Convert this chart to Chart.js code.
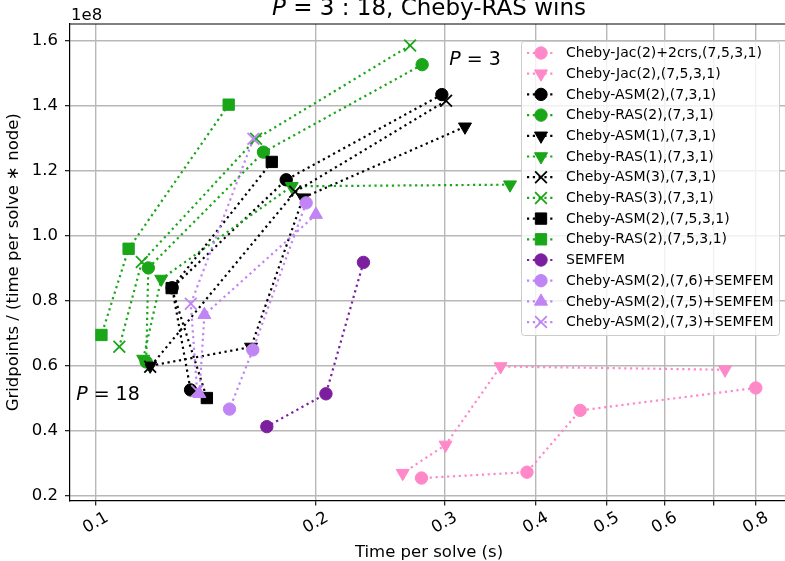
<!DOCTYPE html>
<html>
<head>
<meta charset="utf-8">
<title>P = 3:18, Cheby-RAS wins</title>
<script src="https://cdn.jsdelivr.net/npm/chart.js"></script>
<style>
    html, body { margin: 0; padding: 0; background: #fff; }
    #wrap { width: 785px; height: 561px; }
</style>
</head>
<body>
<div id="wrap"><canvas id="chart" width="785" height="561"></canvas></div>
<script>
// time per solve (s) and gridpoints / (time per solve * node), the latter in units of 1e8
// every series runs from P = 3 (top right) down to P = 18

const seriesNames = [
    'Cheby-Jac(2)+2crs,(7,5,3,1)',
    'Cheby-Jac(2),(7,5,3,1)',
    'Cheby-ASM(2),(7,3,1)',
    'Cheby-RAS(2),(7,3,1)',
    'Cheby-ASM(1),(7,3,1)',
    'Cheby-RAS(1),(7,3,1)',
    'Cheby-ASM(3),(7,3,1)',
    'Cheby-RAS(3),(7,3,1)',
    'Cheby-ASM(2),(7,5,3,1)',
    'Cheby-RAS(2),(7,5,3,1)',
    'SEMFEM',
    'Cheby-ASM(2),(7,6)+SEMFEM',
    'Cheby-ASM(2),(7,5)+SEMFEM',
    'Cheby-ASM(2),(7,3)+SEMFEM'
];

const jac2crsTime = [0.800, 0.460, 0.389, 0.279];
const jac2crsRate = [0.532, 0.463, 0.273, 0.255];

const jacTime = [0.726, 0.358, 0.301, 0.263];
const jacRate = [0.588, 0.598, 0.357, 0.270];

const asm2Time = [0.2975, 0.1822, 0.1272, 0.1348];
const asm2Rate = [1.434, 1.172, 0.840, 0.526];

const ras2Time = [0.2796, 0.1696, 0.1180, 0.1172];
const ras2Rate = [1.526, 1.257, 0.901, 0.612];

const asm1Time = [0.320, 0.1922, 0.1631, 0.1187];
const asm1Rate = [1.335, 1.117, 0.658, 0.600];

const ras1Time = [0.3688, 0.1854, 0.1229, 0.1161];
const ras1Rate = [1.157, 1.152, 0.867, 0.621];

const asm3Time = [0.3015, 0.1874, 0.1187];
const asm3Rate = [1.415, 1.135, 0.597];

const ras3Time = [0.2692, 0.1657, 0.1156, 0.1077];
const ras3Rate = [1.585, 1.298, 0.919, 0.659];

const asm2LongTime = [0.1741, 0.1270, 0.1419];
const asm2LongRate = [1.227, 0.839, 0.501];

const ras2LongTime = [0.1520, 0.1109, 0.1018];
const ras2LongRate = [1.403, 0.960, 0.695];

const semfemTime = [0.2324, 0.2065, 0.1714];
const semfemRate = [0.918, 0.514, 0.413];

const semfem76Time = [0.1940, 0.1640, 0.1524];
const semfem76Rate = [1.101, 0.649, 0.467];

const semfem75Time = [0.2001, 0.1408, 0.1386];
const semfem75Rate = [1.065, 0.757, 0.514];

const semfem73Time = [0.1643, 0.1349, 0.1376];
const semfem73Rate = [1.298, 0.791, 0.523];

const xTicks = [0.1, 0.2, 0.3, 0.4, 0.5, 0.6, 0.7, 0.8];
const xTickLabels = ['0.1', '0.2', '0.3', '0.4', '0.5', '0.6', '', '0.8'];
const yTicks = [0.2, 0.4, 0.6, 0.8, 1.0, 1.2, 1.4, 1.6];
const yTickLabels = ['0.2', '0.4', '0.6', '0.8', '1.0', '1.2', '1.4', '1.6'];

const seriesTimes = [jac2crsTime, jacTime, asm2Time, ras2Time, asm1Time, ras1Time, asm3Time,
    ras3Time, asm2LongTime, ras2LongTime, semfemTime, semfem76Time, semfem75Time, semfem73Time];
const seriesRates = [jac2crsRate, jacRate, asm2Rate, ras2Rate, asm1Rate, ras1Rate, asm3Rate,
    ras3Rate, asm2LongRate, ras2LongRate, semfemRate, semfem76Rate, semfem75Rate, semfem73Rate];

// ---- styles ----
const FONT = "'DejaVu Sans', sans-serif";
const PINK = '#ff88c8';
const BLACK = '#000000';
const GREEN = '#19a619';
const DARK_PURPLE = '#7c1f9e';
const LIGHT_PURPLE = '#c184f4';

const MARKERS = {
    o: { pointStyle: 'circle', radius: 6.2, rotation: 0, borderWidth: 1 },
    v: { pointStyle: 'triangle', radius: 7.5, rotation: 180, borderWidth: 1 },
    '^': { pointStyle: 'triangle', radius: 7.5, rotation: 0, borderWidth: 1 },
    x: { pointStyle: 'crossRot', radius: 8.3, rotation: 0, borderWidth: 1.8 },
    s: { pointStyle: 'rect', radius: 8, rotation: 0, borderWidth: 1 }
};

const seriesStyles = [
    [PINK, 'o'], [PINK, 'v'],
    [BLACK, 'o'], [GREEN, 'o'],
    [BLACK, 'v'], [GREEN, 'v'],
    [BLACK, 'x'], [GREEN, 'x'],
    [BLACK, 's'], [GREEN, 's'],
    [DARK_PURPLE, 'o'], [LIGHT_PURPLE, 'o'], [LIGHT_PURPLE, '^'], [LIGHT_PURPLE, 'x']
];

const datasets = seriesNames.map((name, i) => {
    const [color, m] = seriesStyles[i];
    const mk = MARKERS[m];
    return {
        label: name,
        data: seriesTimes[i].map((t, j) => ({ x: t, y: seriesRates[i][j] })),
        showLine: true,
        borderColor: color,
        backgroundColor: color,
        borderWidth: 2.2,
        borderDash: [2.2, 3.6],
        pointStyle: mk.pointStyle,
        pointRadius: mk.radius,
        pointRotation: mk.rotation,
        pointBorderWidth: mk.borderWidth,
        pointBackgroundColor: color,
        pointBorderColor: color,
        // matplotlib paints later series on top
        order: seriesNames.length - i
    };
});

function drawRich(ctx, parts, x, y, size, align) {
    const widths = parts.map(([t, it]) => {
        ctx.font = `${it ? 'italic ' : ''}${size}px ${FONT}`;
        return ctx.measureText(t).width;
    });
    const total = widths.reduce((s, w) => s + w, 0);
    let cx = align === 'center' ? x - total / 2 : x;
    ctx.textAlign = 'left';
    parts.forEach(([t, it], i) => {
        ctx.font = `${it ? 'italic ' : ''}${size}px ${FONT}`;
        ctx.fillText(t, cx, y);
        cx += widths[i];
    });
}

function drawMarker(ctx, ds, x, y) {
    ctx.setLineDash([]);
    ctx.fillStyle = ds.pointBackgroundColor;
    ctx.strokeStyle = ds.pointBorderColor;
    ctx.lineWidth = ds.pointBorderWidth;
    Chart.helpers.drawPoint(ctx, {
        pointStyle: ds.pointStyle,
        rotation: ds.pointRotation,
        radius: ds.pointRadius,
        borderWidth: ds.pointBorderWidth
    }, x, y);
}

const decorations = {
    id: 'decorations',
    afterDraw(chart) {
        const { ctx, chartArea: a, scales } = chart;
        ctx.save();

        // top spine
        ctx.strokeStyle = '#000';
        ctx.lineWidth = 1.2;
        ctx.beginPath();
        ctx.moveTo(a.left, a.top);
        ctx.lineTo(a.right, a.top);
        ctx.stroke();

        ctx.fillStyle = '#000';

        // x tick labels, rotated about their centre
        ctx.font = `16.5px ${FONT}`;
        ctx.textAlign = 'center';
        ctx.textBaseline = 'middle';
        scales.x.ticks.forEach((tk) => {
            const label = xTickLabels[xTicks.indexOf(tk.value)];
            if (!label) return;
            ctx.save();
            ctx.translate(scales.x.getPixelForValue(tk.value), a.bottom + 22.5);
            ctx.rotate(-Math.PI / 6);
            ctx.fillText(label, 0, 0);
            ctx.restore();
        });

        // axis titles
        ctx.fillText('Time per solve (s)', 429, 553);
        ctx.save();
        ctx.translate(14, (a.top + a.bottom) / 2);
        ctx.rotate(-Math.PI / 2);
        ctx.fillText('Gridpoints / (time per solve \u2217 node)', 0, 0);
        ctx.restore();

        // offset text
        ctx.textAlign = 'left';
        ctx.textBaseline = 'alphabetic';
        ctx.font = `16.5px ${FONT}`;
        ctx.fillText('1e8', 71, 20);

        // title
        drawRich(ctx, [['P', true], [' = 3 : 18, Cheby-RAS wins', false]], 429, 15, 23, 'center');

        // P annotations
        drawRich(ctx, [['P', true], [' = 3', false]], scales.x.getPixelForValue(0.3045), scales.y.getPixelForValue(1.526), 19, 'left');
        drawRich(ctx, [['P', true], [' = 18', false]], scales.x.getPixelForValue(0.094), scales.y.getPixelForValue(0.495), 19, 'left');

        // legend
        const box = { x: 521, y: 41, w: 258, h: 294 };
        ctx.fillStyle = 'rgba(255,255,255,0.8)';
        ctx.strokeStyle = '#cccccc';
        ctx.lineWidth = 1;
        ctx.beginPath();
        ctx.roundRect(box.x + 0.5, box.y + 0.5, box.w, box.h, 3);
        ctx.fill();
        ctx.stroke();

        chart.data.datasets.forEach((ds, i) => {
            const cy = box.y + 12 + i * 20.7;
            ctx.setLineDash(ds.borderDash);
            ctx.strokeStyle = ds.borderColor;
            ctx.lineWidth = ds.borderWidth;
            ctx.beginPath();
            ctx.moveTo(box.x + 6, cy);
            ctx.lineTo(box.x + 34, cy);
            ctx.stroke();
            drawMarker(ctx, ds, box.x + 20, cy);
            ctx.fillStyle = '#000';
            ctx.font = `14px ${FONT}`;
            ctx.textAlign = 'left';
            ctx.textBaseline = 'middle';
            ctx.fillText(ds.label, box.x + 45, cy + 0.5);
        });

        ctx.restore();
    }
};

new Chart(document.getElementById('chart'), {
    type: 'scatter',
    data: { datasets },
    options: {
        responsive: false,
        animation: false,
        events: [],
        layout: { autoPadding: false, padding: { top: 24, left: 0, right: 0, bottom: 0 } },
        plugins: {
            legend: { display: false },
            title: { display: false },
            tooltip: { enabled: false }
        },
        scales: {
            x: {
                type: 'logarithmic',
                min: 0.0922,
                max: 0.877,
                afterBuildTicks: (scale) => { scale.ticks = xTicks.map(v => ({ value: v })); },
                afterFit: (scale) => { scale.height = 60.5; scale.paddingLeft = 0; scale.paddingRight = 0; },
                ticks: { display: false, autoSkip: false },
                grid: { color: '#b8b8b8', lineWidth: 1.4, tickColor: '#000', tickLength: 5, tickWidth: 1.1 },
                border: { color: '#000', width: 1.2 }
            },
            y: {
                type: 'linear',
                min: 0.186,
                max: 1.651,
                afterBuildTicks: (scale) => { scale.ticks = yTicks.map(v => ({ value: v })); },
                afterFit: (scale) => { scale.width = 70; },
                ticks: {
                    autoSkip: false,
                    padding: 7,
                    color: '#000',
                    font: { family: FONT, size: 16.5 },
                    callback: (v, i) => yTickLabels[i]
                },
                grid: { color: '#b8b8b8', lineWidth: 1.4, tickColor: '#000', tickLength: 5, tickWidth: 1.1 },
                border: { color: '#000', width: 1.2 }
            }
        }
    },
    plugins: [decorations]
});
</script>
</body>
</html>
